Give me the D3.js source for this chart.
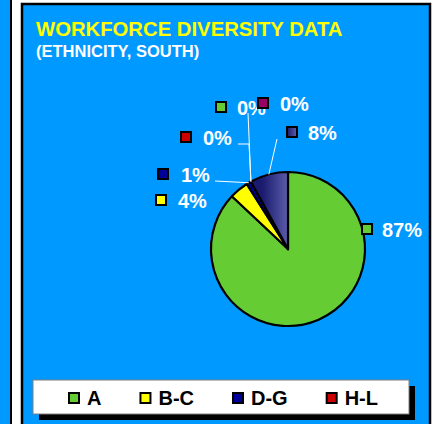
<!DOCTYPE html>
<html>
<head>
<meta charset="utf-8">
<script src="https://cdn.jsdelivr.net/npm/d3@7"></script>
<style>
  html, body { margin: 0; padding: 0; background: #ffffff; }
  svg { display: block; font-family: "Liberation Sans", Arial, sans-serif; font-weight: bold; }
</style>
</head>
<body>
<div id="chart"></div>
<script>
// DATA

const categories = ["A", "B-C", "D-G", "H-L", "M-P", "Q-S", "T-Z"];
const shares     = [87, 4, 1, 0, 0, 0, 8];
const legendCategories = ["A", "B-C", "D-G", "H-L"];

// STYLE / LAYOUT

const W = 434, H = 424;
const blue = "#0099ff";
const colors = ["#66cc33", "#ffff00", "#000099", "#cc0000", "#66cc33", "#990066", "url(#slate)"];
const pie = { cx: 288, cy: 249, r: 77 };

// label placement for each slice: square x, text x, baseline y
const labelPos = [
  { sx: 362, tx: 382, y: 237 },
  { sx: 156, tx: 178, y: 208 },
  { sx: 158, tx: 181, y: 182 },
  { sx: 181, tx: 203, y: 145 },
  { sx: 216, tx: 237, y: 115 },
  { sx: 258, tx: 280, y: 111 },
  { sx: 287, tx: 308, y: 140 }
];
// leader lines: null = none, otherwise points after the arc point
const leaders = [
  null,
  null,
  [[215, 181]],
  [[249, 144], [238, 144]],
  [[248, 113]],
  null,
  [[277, 139]]
];

// CREATE THE SVG

const svg = d3.select("#chart").append("svg")
  .attr("width", W)
  .attr("height", H);

const defs = svg.append("defs");
// gradient in the pie group's local coordinates
const grad = defs.append("linearGradient")
  .attr("id", "slate")
  .attr("gradientUnits", "userSpaceOnUse")
  .attr("x1", -26).attr("y1", 0).attr("x2", 0).attr("y2", 0);
grad.append("stop").attr("offset", "0%").attr("stop-color", "#1a1a6e");
grad.append("stop").attr("offset", "100%").attr("stop-color", "#5c5caa");

const grad2 = defs.append("linearGradient").attr("id", "slateBox");
grad2.append("stop").attr("offset", "0%").attr("stop-color", "#1a1a6e");
grad2.append("stop").attr("offset", "100%").attr("stop-color", "#6060aa");

// panels
svg.append("rect")
  .attr("x", -4).attr("y", -4).attr("width", 15).attr("height", H + 8)
  .attr("fill", blue).attr("stroke", "#000").attr("stroke-width", 2);

svg.append("rect")
  .attr("x", 22).attr("y", 4).attr("width", 408).attr("height", H + 10)
  .attr("fill", blue).attr("stroke", "#000").attr("stroke-width", 2.5);

// titles
svg.append("text")
  .attr("x", 36).attr("y", 36)
  .attr("fill", "#ffff00")
  .style("font-size", "20.3px")
  .text("WORKFORCE DIVERSITY DATA");

svg.append("text")
  .attr("x", 36).attr("y", 57)
  .attr("fill", "#ffffff")
  .style("font-size", "16.5px")
  .text("(ETHNICITY, SOUTH)");

// DRAW THE PIE

const arcs = d3.pie().sort(null).value(d => d)(shares);
const arc = d3.arc().innerRadius(0).outerRadius(pie.r);
const edge = d3.arc().innerRadius(pie.r).outerRadius(pie.r);

const g = svg.append("g").attr("transform", `translate(${pie.cx},${pie.cy})`);

g.selectAll("path.slice")
  .data(arcs)
  .join("path")
  .attr("class", "slice")
  .attr("d", arc)
  .attr("fill", (d, i) => colors[i])
  .attr("stroke", "#000")
  .attr("stroke-width", 2.2)
  .attr("stroke-linejoin", "round");

// leader lines
arcs.forEach((d, i) => {
  if (!leaders[i]) return;
  const c = edge.centroid(d);
  const pts = [[pie.cx + c[0], pie.cy + c[1]]].concat(leaders[i]);
  svg.append("path")
    .attr("d", d3.line()(pts))
    .attr("fill", "none")
    .attr("stroke", "#ffffff")
    .attr("stroke-width", 1);
});

// labels
arcs.forEach((d, i) => {
  const p = labelPos[i];
  svg.append("rect")
    .attr("x", p.sx).attr("y", p.y - 13)
    .attr("width", 10).attr("height", 10)
    .attr("fill", i === 6 ? "url(#slateBox)" : colors[i])
    .attr("stroke", "#000").attr("stroke-width", 2);
  svg.append("text")
    .attr("x", p.tx).attr("y", p.y)
    .attr("fill", "#ffffff")
    .style("font-size", "20px")
    .text(d3.format(".0%")(d.data / 100));
});

// LEGEND

const box = { x: 33, y: 380, w: 376, h: 34 };
svg.append("rect")
  .attr("x", box.x + 6).attr("y", box.y + 6).attr("width", box.w).attr("height", box.h)
  .attr("fill", "#000");
svg.append("rect")
  .attr("x", box.x).attr("y", box.y).attr("width", box.w).attr("height", box.h)
  .attr("fill", "#fff").attr("stroke", "#808080").attr("stroke-width", 1);

const items = svg.append("g").selectAll("g")
  .data(legendCategories)
  .join("g");

items.append("text")
  .attr("x", 18)
  .attr("y", box.y + 25)
  .attr("fill", "#000")
  .style("font-size", "20px")
  .text(d => d);

// lay items out with equal gaps
const widths = items.nodes().map(n => 18 + n.querySelector("text").getComputedTextLength());
const gap = 39;
let xx = box.x + 36;
items.each(function (d, i) {
  d3.select(this).attr("transform", `translate(${xx},0)`);
  xx += widths[i] + gap;
});

items.insert("rect", "text")
  .attr("x", 0).attr("y", box.y + 13)
  .attr("width", 10).attr("height", 10)
  .attr("fill", d => colors[categories.indexOf(d)])
  .attr("stroke", "#000").attr("stroke-width", 2);
</script>
</body>
</html>
